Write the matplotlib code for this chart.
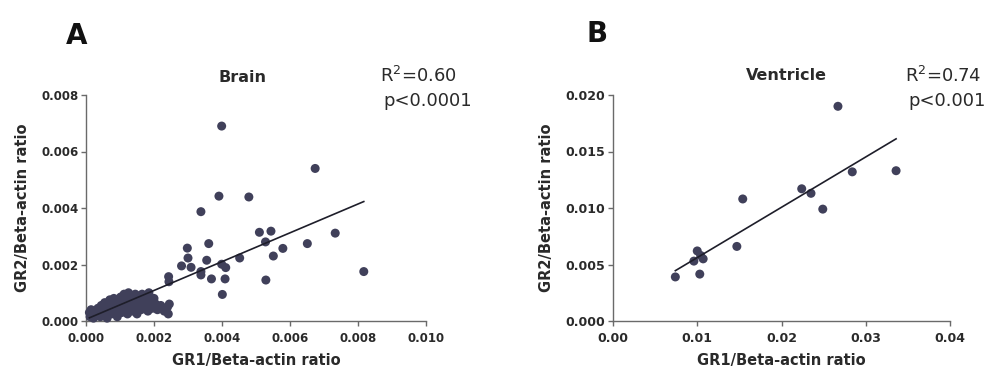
import numpy as np
import matplotlib.pyplot as plt

plt.rcParams['font.family'] = 'DejaVu Sans'

# ---- data ----
# Brain: low-expression cluster, values x1e-3
brain_low_x = [0.10, 0.12, 0.15, 0.20, 0.22, 0.25, 0.30, 0.35, 0.38, 0.42, 0.45, 0.50, 0.52,
               0.55, 0.60, 0.62, 0.65, 0.70, 0.72, 0.75, 0.80, 0.82, 0.85, 0.90, 0.92, 0.95,
               1.00, 1.02, 1.05, 1.10, 1.12, 1.15, 1.20, 1.22, 1.25, 1.30, 1.32, 1.35, 1.40,
               1.45, 1.48, 1.50, 1.55, 1.60, 1.62, 1.65, 1.70, 1.75, 1.80, 1.82, 1.85, 1.90,
               1.95, 2.00, 2.05, 2.10, 2.20, 2.30, 2.40, 2.45, 2.42]
brain_low_y = [0.30, 0.15, 0.40, 0.25, 0.10, 0.35, 0.20, 0.45, 0.30, 0.15, 0.55, 0.40, 0.25,
               0.65, 0.50, 0.10, 0.35, 0.75, 0.55, 0.25, 0.45, 0.80, 0.65, 0.35, 0.15, 0.70,
               0.50, 0.85, 0.30, 0.60, 0.95, 0.45, 0.75, 0.25, 1.00, 0.55, 0.85, 0.35, 0.70,
               0.95, 0.50, 0.25, 0.80, 0.60, 0.40, 0.95, 0.70, 0.50, 0.85, 0.35, 1.00, 0.65,
               0.45, 0.80, 0.60, 0.40, 0.55, 0.35, 0.50, 0.60, 0.25]
# Brain: higher-expression points, values x1e-3
brain_high_x = [2.43, 2.44, 2.81, 2.98, 3.00, 3.09, 3.38, 3.61, 3.55, 3.38, 3.69, 3.99, 4.11,
                4.09, 4.01, 3.99, 3.91, 4.79, 3.38, 4.52, 5.10, 5.44, 5.28, 5.51, 5.79, 6.51,
                7.33, 5.29, 6.74, 8.17]
brain_high_y = [1.57, 1.39, 1.95, 2.58, 2.23, 1.90, 1.75, 2.74, 2.15, 1.63, 1.49, 2.01, 1.89,
                1.49, 0.94, 6.90, 4.42, 4.39, 3.87, 2.23, 3.14, 3.18, 2.80, 2.30, 2.57, 2.74,
                3.11, 1.45, 5.40, 1.75]

# Ventricle, values x1e-3
vent_x = [7.4, 9.6, 10.0, 10.4, 10.7, 10.3, 14.7, 15.4, 22.4, 23.5, 24.9, 26.7, 28.4, 33.6]
vent_y = [3.9, 5.3, 6.2, 5.8, 5.5, 4.15, 6.6, 10.8, 11.7, 11.3, 9.9, 19.0, 13.2, 13.3]

brain_ticks_x = [0.000, 0.002, 0.004, 0.006, 0.008, 0.010]
brain_ticks_y = [0.000, 0.002, 0.004, 0.006, 0.008]
vent_ticks_x = [0.00, 0.01, 0.02, 0.03, 0.04]
vent_ticks_y = [0.000, 0.005, 0.010, 0.015, 0.020]

DOT = '#40405a'
AXC = '#6a6a6a'
TXT = '#2a2a2a'

W, H = 984, 374


def fx(px):
    return px / W


def fy(py):
    return 1 - py / H


def style_axes(ax, xticks, yticks, xfmt, yfmt, tick_fs):
    for s in ['top', 'right']:
        ax.spines[s].set_visible(False)
    for s in ['left', 'bottom']:
        ax.spines[s].set_color(AXC)
        ax.spines[s].set_linewidth(1.0)
    ax.set_xlim(xticks[0], xticks[-1])
    ax.set_ylim(yticks[0], yticks[-1])
    ax.set_xticks(xticks)
    ax.set_yticks(yticks)
    ax.set_xticklabels([xfmt % t for t in xticks])
    ax.set_yticklabels([yfmt % t for t in yticks])
    ax.tick_params(direction='out', length=3.5, width=1.0, color=AXC,
                   labelsize=tick_fs, labelcolor=TXT)
    ax.tick_params(axis='x', pad=4.5)
    ax.tick_params(axis='y', pad=2)
    for lab in ax.get_xticklabels() + ax.get_yticklabels():
        lab.set_fontweight('bold')
    ax.set_xlabel('GR1/Beta-actin ratio', fontsize=10.5, fontweight='bold', color=TXT, labelpad=6)
    ax.set_ylabel('GR2/Beta-actin ratio', fontsize=10.5, fontweight='bold', color=TXT, labelpad=8)


def scatter_fit(ax, x, y):
    x = np.asarray(x)
    y = np.asarray(y)
    ax.scatter(x, y, s=42, color=DOT, edgecolors='none', zorder=3, clip_on=False)
    k, b = np.polyfit(x, y, 1)
    xl = np.array([x.min(), x.max()])
    ax.plot(xl, k * xl + b, color='#1e1e2a', lw=1.2, zorder=4)


fig = plt.figure(figsize=(W / 100, H / 100), dpi=100)

# Panel A: Brain
axA = fig.add_axes([fx(86), fy(321), fx(426 - 86), (321 - 95) / H])
bx = np.array(brain_low_x + brain_high_x) * 1e-3
by = np.array(brain_low_y + brain_high_y) * 1e-3
scatter_fit(axA, bx, by)
style_axes(axA, brain_ticks_x, brain_ticks_y, '%.3f', '%.3f', 8.5)

# Panel B: Ventricle
axB = fig.add_axes([fx(613), fy(321), fx(950 - 613), (321 - 95) / H])
scatter_fit(axB, np.array(vent_x) * 1e-3, np.array(vent_y) * 1e-3)
style_axes(axB, vent_ticks_x, vent_ticks_y, '%.2f', '%.3f', 9)

# panel letters, titles, stats
fig.text(fx(77), fy(36), 'A', fontsize=20, fontweight='bold', ha='center', va='center', color='#111111')
fig.text(fx(597), fy(34), 'B', fontsize=20, fontweight='bold', ha='center', va='center', color='#111111')
fig.text(fx(242), fy(77), 'Brain', fontsize=11.5, fontweight='bold', ha='center', va='center', color=TXT)
fig.text(fx(786), fy(76), 'Ventricle', fontsize=11.5, fontweight='bold', ha='center', va='center', color=TXT)
fig.text(fx(380), fy(76), 'R$^2$=0.60', fontsize=13, ha='left', va='center', color=TXT)
fig.text(fx(383), fy(101), 'p<0.0001', fontsize=13, ha='left', va='center', color=TXT)
fig.text(fx(905), fy(76), 'R$^2$=0.74', fontsize=13, ha='left', va='center', color=TXT)
fig.text(fx(908), fy(101), 'p<0.001', fontsize=13, ha='left', va='center', color=TXT)

fig.savefig('out.png', dpi=100, facecolor='white')
